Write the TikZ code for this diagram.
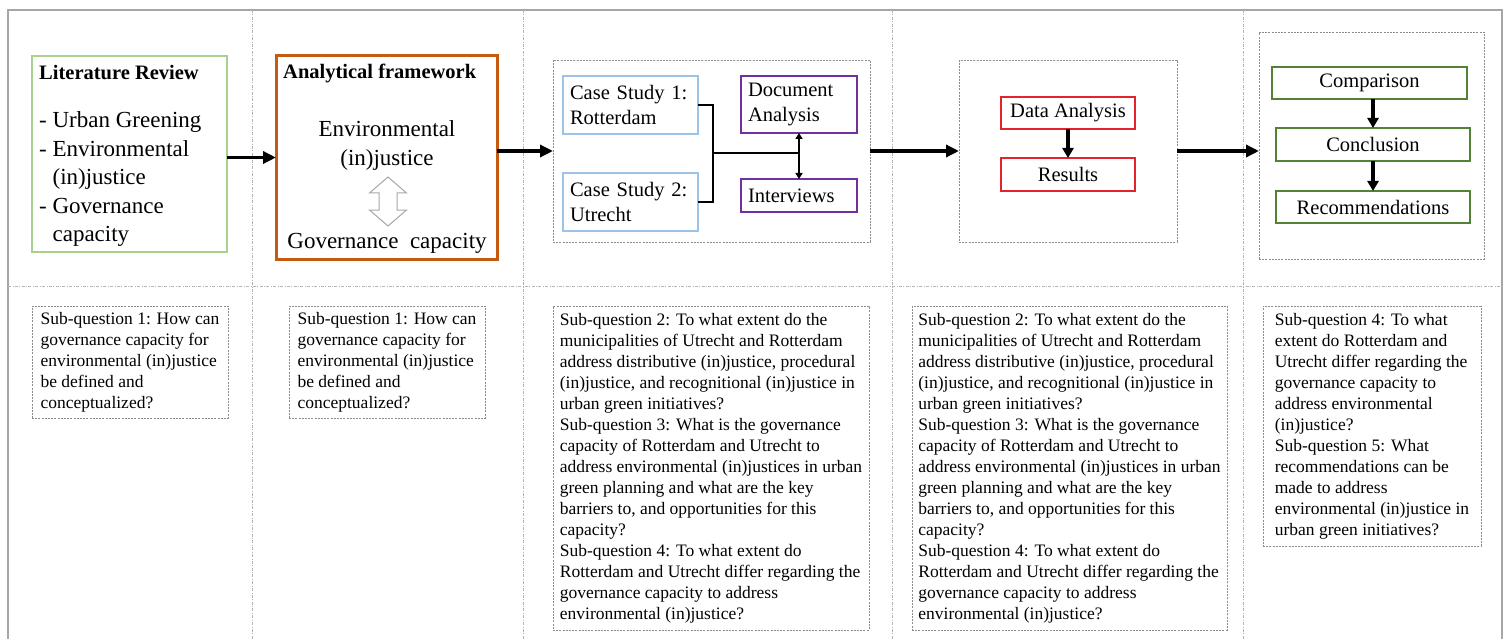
\documentclass[tikz,border=0pt]{standalone}
\usepackage{fontspec}
\setmainfont{Liberation Serif}
\usetikzlibrary{arrows.meta}
\definecolor{litgreen}{HTML}{A9D18E}
\definecolor{orangeb}{HTML}{C55A11}
\definecolor{caseblue}{HTML}{9DC3E6}
\definecolor{purpleb}{HTML}{7030A0}
\definecolor{redb}{HTML}{E3242B}
\definecolor{darkgreen}{HTML}{548235}
\definecolor{framegray}{HTML}{A6A6A6}
\definecolor{dashgray}{HTML}{8C8C8C}
\definecolor{divgray}{HTML}{B4B4B4}
\definecolor{hollowgray}{HTML}{A6A6A6}
\begin{document}
\begin{tikzpicture}[x=1pt,y=-1pt,
  solidbox/.style={draw, inner sep=0pt, outer sep=0pt, align=center},
  leftbox/.style={draw, inner ysep=0pt, inner xsep=7pt, outer sep=0pt, align=left},
  dashbox/.style={draw=dashgray, line width=0.8pt, dash pattern=on 2pt off 1.2pt, inner sep=0pt, outer sep=0pt},
  sqbox/.style={dashbox, align=left, font=\fontsize{17.5}{21}\selectfont},
  toptext/.style={font=\fontsize{20.5}{25.5}\selectfont},
  bigtext/.style={font=\fontsize{23}{28.5}\selectfont},
  titletext/.style={font=\bfseries\fontsize{20.5}{24}\selectfont, inner sep=0pt, anchor=west},
  bigarrow/.style={line width=3.4pt, -{Triangle[length=13pt,width=12pt]}},
  midarrow/.style={line width=3.2pt, -{Triangle[length=10pt,width=11pt]}},
  smallarrow/.style={line width=2.2pt, {Triangle[length=6pt,width=7pt]}-{Triangle[length=6pt,width=7pt]}},
  bracket/.style={line width=2.6pt},
  framestyle/.style={draw=framegray, line width=1.8pt},
  divider/.style={draw=divgray, line width=0.8pt, dash pattern=on 3pt off 1.5pt on 0.8pt off 1.5pt}
]
\path[use as bounding box] (0,0) rectangle (1509,639);

% frame and dividers
\draw[framestyle] (8,639) -- (8,10) -- (1502,10) -- (1502,639);
\draw[divider] (252,10) -- (252,639);
\draw[divider] (523,10) -- (523,639);
\draw[divider] (892,10) -- (892,639);
\draw[divider] (1243,10) -- (1243,639);
\draw[divider] (8,286) -- (1502,286);

% column 1: literature review
\node[solidbox, draw=litgreen, line width=2pt, minimum width=195pt, minimum height=196pt] (lit) at (129.5,154) {};
\node[titletext] (littitle) at (39,73) {Literature Review};
\node[bigtext, anchor=west, align=left, inner sep=0pt] (litlist) at (39,179.5) {- Urban Greening\\- Environmental\\\phantom{- }(in)justice\\- Governance\\\phantom{- }capacity};

% column 2: analytical framework
\node[solidbox, draw=orangeb, line width=3pt, minimum width=221pt, minimum height=203pt] (frame) at (386.5,157.5) {};
\node[titletext] (frametitle) at (283,73) {Analytical framework};
\node[bigtext, align=center, inner sep=0pt] (envj) at (387,145.5) {Environmental\\(in)justice};
\node[bigtext, inner sep=0pt] (govc) at (387,243.5) {Governance\ \ capacity};
\draw[draw=hollowgray, fill=white, line width=1pt] (388,177) -- (406.5,193) -- (397,193) -- (397,210) -- (406.5,210) -- (388,226) -- (369.5,210) -- (379,210) -- (379,193) -- (369.5,193) -- cycle;

% column 3: case studies
\node[dashbox, minimum width=317pt, minimum height=182pt] (casebox) at (711.5,151) {};
\node[leftbox, draw=caseblue, line width=2.4pt, text width=121pt, minimum height=58pt, toptext] (cs1) at (630.5,105) {Case Study 1:\\Rotterdam};
\node[leftbox, draw=caseblue, line width=2.4pt, text width=121pt, minimum height=58pt, toptext] (cs2) at (630.5,202) {Case Study 2:\\Utrecht};
\node[leftbox, draw=purpleb, line width=2.4pt, text width=102pt, minimum height=57pt, toptext] (doc) at (799,104.5) {Document\\Analysis};
\node[leftbox, draw=purpleb, line width=2.4pt, text width=102pt, minimum height=33pt, toptext] (int) at (799,195.5) {Interviews};
\coordinate (jx) at (713,153);
\draw[bracket] (cs1.east) -| (jx) |- (cs2.east);
\draw[bracket] (jx) -- (doc.south |- jx);
\draw[smallarrow] (doc.south) -- (int.north);

% column 4: data analysis
\node[dashbox, minimum width=218pt, minimum height=182pt] (databox) at (1068,151) {};
\node[solidbox, draw=redb, line width=2.4pt, minimum width=134pt, minimum height=32pt, toptext] (da) at (1068,113) {Data Analysis};
\node[solidbox, draw=redb, line width=2.4pt, minimum width=134pt, minimum height=33pt, toptext] (res) at (1068,174.5) {Results};
\draw[midarrow] (da.south) -- (res.north);

% column 5: comparison
\node[dashbox, minimum width=225pt, minimum height=227pt] (finalbox) at (1371.5,145.5) {};
\node[solidbox, draw=darkgreen, line width=2.4pt, minimum width=195pt, minimum height=32pt, toptext] (comp) at (1369.5,83) {Comparison};
\node[solidbox, draw=darkgreen, line width=2.4pt, minimum width=194pt, minimum height=33pt, toptext] (conc) at (1373,144.5) {Conclusion};
\node[solidbox, draw=darkgreen, line width=2.4pt, minimum width=194pt, minimum height=32pt, toptext] (rec) at (1373,207) {Recommendations};
\draw[midarrow] (comp.south -| conc.north) -- (conc.north);
\draw[midarrow] (conc.south) -- (rec.north);

% main flow arrows
\draw[bigarrow] (lit.east |- frame.west) -- (frame.west);
\draw[bigarrow] (frame.east |- casebox.west) -- (casebox.west);
\draw[bigarrow] (casebox.east) -- (databox.west);
\draw[bigarrow] (databox.east) -- (finalbox.west |- databox.east);

% sub-question boxes
\node[sqbox, minimum width=196pt, minimum height=112pt] (sq1a) at (130,362) {Sub-question 1: How can\\governance capacity for\\environmental (in)justice\\be defined and\\conceptualized?};
\node[sqbox, minimum width=196pt, minimum height=112pt] (sq1b) at (387,362) {Sub-question 1: How can\\governance capacity for\\environmental (in)justice\\be defined and\\conceptualized?};
\node[sqbox, minimum width=316pt, minimum height=324pt] (sq2a) at (711,468) {Sub-question 2: To what extent do the\\municipalities of Utrecht and Rotterdam\\address distributive (in)justice, procedural\\(in)justice, and recognitional (in)justice in\\urban green initiatives?\\Sub-question 3: What is the governance\\capacity of Rotterdam and Utrecht to\\address environmental (in)justices in urban\\green planning and what are the key\\barriers to, and opportunities for this\\capacity?\\Sub-question 4: To what extent do\\Rotterdam and Utrecht differ regarding the\\governance capacity to address\\environmental (in)justice?};
\node[sqbox, minimum width=315pt, minimum height=324pt] (sq2b) at (1069.5,468) {Sub-question 2: To what extent do the\\municipalities of Utrecht and Rotterdam\\address distributive (in)justice, procedural\\(in)justice, and recognitional (in)justice in\\urban green initiatives?\\Sub-question 3: What is the governance\\capacity of Rotterdam and Utrecht to\\address environmental (in)justices in urban\\green planning and what are the key\\barriers to, and opportunities for this\\capacity?\\Sub-question 4: To what extent do\\Rotterdam and Utrecht differ regarding the\\governance capacity to address\\environmental (in)justice?};
\node[sqbox, minimum width=218pt, minimum height=240pt] (sq45) at (1372,426) {Sub-question 4: To what\\extent do Rotterdam and\\Utrecht differ regarding the\\governance capacity to\\address environmental\\(in)justice?\\Sub-question 5: What\\recommendations can be\\made to address\\environmental (in)justice in\\urban green initiatives?};
\end{tikzpicture}
\end{document}
